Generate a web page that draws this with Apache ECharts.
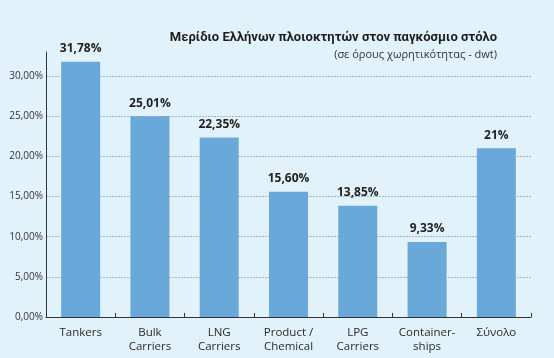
<!DOCTYPE html>
<html><head><meta charset="utf-8">
<script src="https://cdn.jsdelivr.net/npm/echarts@6/dist/echarts.min.js"></script>
<style>html,body{margin:0;padding:0;background:#e2f2fa}#c{width:554px;height:358px}</style>
</head><body><div id="c"></div>
<script>
const categories = ['Tankers', 'Bulk\nCarriers', 'LNG\nCarriers', 'Product /\nChemical', 'LPG\nCarriers', 'Container-\nships', 'Σύνολο'];
const values = [31.78, 25.01, 22.35, 15.60, 13.85, 9.33, 21];
const valueDecimals = [2, 2, 2, 2, 2, 2, 0];
const titleText = 'Μερίδιο Ελλήνων πλοιοκτητών στον παγκόσμιο στόλο';
const subtitleText = '(σε όρους χωρητικότητας - dwt)';
const FONT = '"Open Sans", "Noto Sans", sans-serif';

const chart = echarts.init(document.getElementById('c'), null, {renderer: 'canvas'});
chart.setOption({
  backgroundColor: '#e2f2fa',
  animation: false,
  title: [{
    text: titleText,
    right: 57, top: 31, padding: 0,
    textStyle: {fontFamily: 'Roboto, "Open Sans", sans-serif', fontSize: 13, fontWeight: 'bold', color: '#1e1e1e'}
  }, {
    text: subtitleText,
    right: 57, top: 49, padding: 0,
    textStyle: {fontFamily: FONT, fontSize: 11, fontWeight: 'normal', color: '#333'}
  }],
  grid: {left: 46, right: 23, top: 52, bottom: 41, containLabel: false},
  xAxis: {
    type: 'category',
    data: categories,
    axisLine: {lineStyle: {color: '#333', width: 1}},
    axisTick: {show: true, inside: true, length: 4, lineStyle: {color: '#333'}},
    axisLabel: {fontFamily: FONT, fontSize: 11.5, color: '#2a2a2a', lineHeight: 14.5, margin: 8, interval: 0}
  },
  yAxis: {
    type: 'value',
    min: 0, max: 33, interval: 5,
    axisLine: {show: true, lineStyle: {color: '#333'}},
    axisTick: {show: false},
    axisLabel: {
      fontFamily: FONT, fontSize: 10, color: '#333', margin: 3, showMaxLabel: false,
      formatter: v => v.toFixed(2).replace('.', ',') + '%'
    },
    splitLine: {show: true, showMaxLine: false, lineStyle: {color: '#aab4ba', type: [2, 1], width: 1}}
  },
  series: [{
    type: 'bar',
    data: values,
    barWidth: 39,
    itemStyle: {color: '#68a9d9'},
    label: {
      show: true, position: 'top', distance: 7,
      fontFamily: FONT, fontSize: 12, fontWeight: 'bold', color: '#222',
      formatter: p => values[p.dataIndex].toFixed(valueDecimals[p.dataIndex]).replace('.', ',') + '%'
    }
  }]
});
</script></body></html>
